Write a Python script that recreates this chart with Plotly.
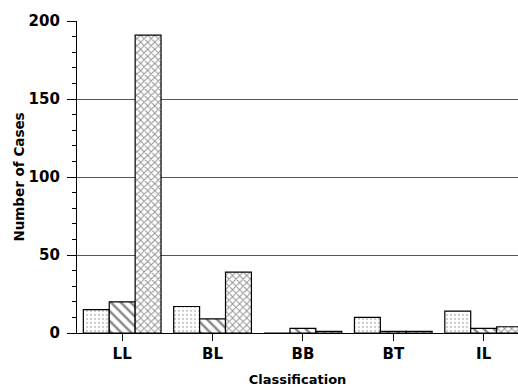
import plotly.graph_objects as go

categories = ["LL", "BL", "BB", "BT", "IL"]
series_a = [15, 17, 0, 10, 14]    # stippled bars
series_b = [20, 9, 3, 1, 3]       # diagonal-hatched bars
series_c = [191, 39, 1, 1, 4]     # cross-hatched bars
y_ticks = [0, 50, 100, 150, 200]

x_idx = list(range(len(categories)))

fig = go.Figure()
styles = [
    (series_a, dict(shape=".", size=4, solidity=0.25, fgcolor="#9a9a9a", bgcolor="white")),
    (series_b, dict(shape="\\", size=7, solidity=0.35, fgcolor="#111111", bgcolor="white")),
    (series_c, dict(shape="x", size=5, solidity=0.35, fgcolor="#222222", bgcolor="white")),
]
for vals, pat in styles:
    fig.add_trace(go.Bar(
        x=x_idx, y=vals,
        marker=dict(color="white", pattern=pat, line=dict(color="black", width=1.2)),
        showlegend=False,
    ))

bold = dict(family="DejaVu Sans, Liberation Sans, sans-serif", color="black", weight="bold")

fig.update_layout(
    width=518, height=387,
    margin=dict(l=77, r=0, t=21, b=54),
    paper_bgcolor="white", plot_bgcolor="white",
    barmode="group", bargap=0.14, bargroupgap=0,
    xaxis=dict(
        range=[-0.5, 4.38],
        tickmode="array", tickvals=x_idx, ticktext=categories,
        ticks="outside", ticklen=7, tickcolor="black", tickwidth=1,
        showline=True, linecolor="black", linewidth=1.2,
        showgrid=False, zeroline=False,
        tickfont=dict(size=15, **bold),
        title=dict(text="Classification", font=dict(size=13, **bold), standoff=12),
    ),
    yaxis=dict(
        range=[0, 200],
        tickmode="array", tickvals=y_ticks,
        ticks="outside", ticklen=9, tickcolor="black", tickwidth=1,
        minor=dict(dtick=10, ticks="outside", ticklen=4, tickcolor="black", showgrid=False),
        showline=True, linecolor="black", linewidth=1.2,
        showgrid=True, gridcolor="#555555", gridwidth=1,
        zeroline=False,
        tickfont=dict(size=15, **bold),
        ticklabelstandoff=4,
        title=dict(text="Number of Cases", font=dict(size=13.5, **bold), standoff=0),
    ),
)

fig.write_html("out.html")
